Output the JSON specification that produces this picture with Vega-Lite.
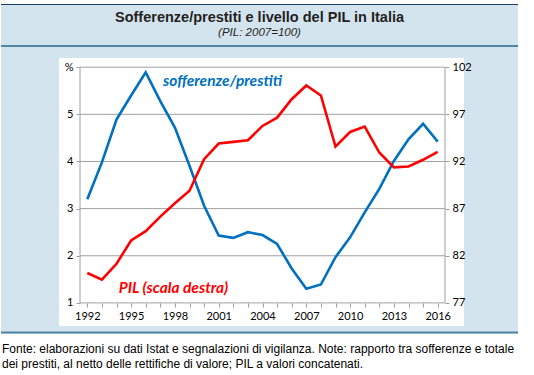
{
  "$schema": "https://vega.github.io/schema/vega-lite/v6.json",
  "padding": {"top": 3, "left": 0, "right": 0, "bottom": 0},
  "background": "white",
  "title": {
    "text": ["Fonte: elaborazioni su dati Istat e segnalazioni di vigilanza. Note: rapporto tra sofferenze e totale", "dei prestiti, al netto delle rettifiche di valore; PIL a valori concatenati."],
    "orient": "bottom", "anchor": "start", "frame": "bounds",
    "font": "Liberation Sans", "fontSize": 12, "fontWeight": "normal", "color": "#000000",
    "offset": 10, "lineHeight": 15, "dx": 2
  },
  "datasets": {
    "d": [
      {"year": 1992, "soff": 3.20, "pil": 80.17},
      {"year": 1993, "soff": 3.98, "pil": 79.46},
      {"year": 1994, "soff": 4.89, "pil": 81.15},
      {"year": 1995, "soff": 5.40, "pil": 83.62},
      {"year": 1996, "soff": 5.89, "pil": 84.61},
      {"year": 1997, "soff": 5.28, "pil": 86.15},
      {"year": 1998, "soff": 4.72, "pil": 87.56},
      {"year": 1999, "soff": 3.91, "pil": 88.90},
      {"year": 2000, "soff": 3.06, "pil": 92.25},
      {"year": 2001, "soff": 2.43, "pil": 93.90},
      {"year": 2002, "soff": 2.38, "pil": 94.08},
      {"year": 2003, "soff": 2.50, "pil": 94.25},
      {"year": 2004, "soff": 2.44, "pil": 95.77},
      {"year": 2005, "soff": 2.25, "pil": 96.65},
      {"year": 2006, "soff": 1.73, "pil": 98.60},
      {"year": 2007, "soff": 1.30, "pil": 100.06},
      {"year": 2008, "soff": 1.39, "pil": 99.00},
      {"year": 2009, "soff": 1.97, "pil": 93.58},
      {"year": 2010, "soff": 2.39, "pil": 95.13},
      {"year": 2011, "soff": 2.92, "pil": 95.70},
      {"year": 2012, "soff": 3.42, "pil": 92.95},
      {"year": 2013, "soff": 4.01, "pil": 91.37},
      {"year": 2014, "soff": 4.47, "pil": 91.47},
      {"year": 2015, "soff": 4.80, "pil": 92.18},
      {"year": 2016, "soff": 4.42, "pil": 93.02}
    ],
    "grid": [{"v": 2}, {"v": 3}, {"v": 4}, {"v": 5}, {"v": 6}],
    "one": [{}]
  },
  "vconcat": [
    {
      "width": 517,
      "height": 330,
      "view": {"fill": "#d4e4ee", "stroke": null},
      "title": {
        "text": "Sofferenze/prestiti e livello del PIL in Italia",
        "subtitle": "(PIL: 2007=100)",
        "anchor": "middle", "frame": "group", "offset": -36,
        "font": "Liberation Sans", "fontSize": 14.5, "fontWeight": "bold", "color": "#231f20",
        "subtitleFont": "Liberation Sans", "subtitleFontSize": 11.5, "subtitleFontStyle": "italic",
        "subtitleColor": "#231f20", "subtitlePadding": 2
      },
      "data": {"name": "d"},
      "layer": [
        {
          "data": {"name": "one"},
          "mark": {"type": "rect", "color": "white"},
          "encoding": {
            "x": {"datum": 1990.062, "type": "quantitative", "scale": {"domain": [1986.089, 2021.5], "nice": false, "zero": false}, "axis": null},
            "x2": {"datum": 2017.80},
            "y": {"datum": 0.51, "type": "quantitative", "scale": {"domain": [0.3404, 7.3404], "nice": false, "zero": false}, "axis": null},
            "y2": {"datum": 6.195}
          }
        },
        {
          "data": {"name": "one"},
          "mark": {"type": "rule", "color": "#4f86a3", "strokeWidth": 2},
          "encoding": {"y": {"datum": 6.449, "type": "quantitative", "scale": {"domain": [0.3404, 7.3404], "nice": false, "zero": false}, "axis": null}}
        },
        {
          "data": {"name": "one"},
          "mark": {"type": "rule", "color": "#4f86a3", "strokeWidth": 2},
          "encoding": {"y": {"datum": 0.37, "type": "quantitative", "scale": {"domain": [0.3404, 7.3404], "nice": false, "zero": false}, "axis": null}}
        },
        {
          "data": {"name": "one"},
          "mark": {"type": "rule", "color": "#1f3f66", "strokeWidth": 1.2},
          "encoding": {"y": {"datum": 7.33, "type": "quantitative", "scale": {"domain": [0.3404, 7.3404], "nice": false, "zero": false}, "axis": null}}
        },
        {
          "data": {"name": "grid"},
          "mark": {"type": "rule", "color": "#a0a0a0", "strokeWidth": 1},
          "encoding": {
            "x": {"datum": 1991.5, "type": "quantitative", "scale": {"domain": [1986.089, 2021.5], "nice": false, "zero": false}, "axis": null},
            "x2": {"datum": 2016.5},
            "y": {"field": "v", "type": "quantitative", "scale": {"domain": [0.3404, 7.3404], "nice": false, "zero": false}, "axis": null}
          }
        },
        {
          "data": {"name": "one"},
          "mark": {"type": "rule", "color": "#a0a0a0", "strokeWidth": 1},
          "encoding": {
            "x": {"datum": 1991.5, "type": "quantitative", "scale": {"domain": [1986.089, 2021.5], "nice": false, "zero": false}, "axis": null},
            "x2": {"datum": 2016.5},
            "y": {"datum": 1, "type": "quantitative", "scale": {"domain": [0.3404, 7.3404], "nice": false, "zero": false}, "axis": null}
          }
        },
        {
          "data": {"name": "one"},
          "mark": {"type": "rule", "color": "#a0a0a0", "strokeWidth": 1},
          "encoding": {
            "x": {"datum": 1991.5, "type": "quantitative", "scale": {"domain": [1986.089, 2021.5], "nice": false, "zero": false}, "axis": null},
            "y": {"datum": 1, "type": "quantitative", "scale": {"domain": [0.3404, 7.3404], "nice": false, "zero": false}, "axis": null},
            "y2": {"datum": 6}
          }
        },
        {
          "data": {"name": "one"},
          "mark": {"type": "rule", "color": "#a0a0a0", "strokeWidth": 1},
          "encoding": {
            "x": {"datum": 2016.5, "type": "quantitative", "scale": {"domain": [1986.089, 2021.5], "nice": false, "zero": false}, "axis": null},
            "y": {"datum": 1, "type": "quantitative", "scale": {"domain": [0.3404, 7.3404], "nice": false, "zero": false}, "axis": null},
            "y2": {"datum": 6}
          }
        },
        {
          "mark": {"type": "line", "color": "#0070c0", "strokeWidth": 2.6},
          "encoding": {
            "x": {
              "field": "year", "type": "quantitative",
              "scale": {"domain": [1986.089, 2021.5], "nice": false, "zero": false},
              "axis": {
                "orient": "bottom", "offset": -31, "title": null, "domain": false, "grid": false, "zindex": 1,
                "values": [1992, 1993, 1994, 1995, 1996, 1997, 1998, 1999, 2000, 2001, 2002, 2003, 2004, 2005, 2006, 2007, 2008, 2009, 2010, 2011, 2012, 2013, 2014, 2015, 2016],
                "format": "d",
                "labelExpr": "(datum.value - 1992) % 3 == 0 ? datum.label : ''",
                "tickSize": 4, "tickColor": "#a0a0a0", "labelPadding": 3,
                "labelFont": "Lato", "labelFontSize": 11, "labelColor": "#000000", "labelFlush": false, "labelOverlap": false
              }
            },
            "y": {
              "field": "soff", "type": "quantitative",
              "scale": {"domain": [0.3404, 7.3404], "nice": false, "zero": false},
              "axis": {
                "orient": "left", "offset": -79, "title": null, "domain": false, "grid": false, "zindex": 1,
                "values": [1, 2, 3, 4, 5, 6],
                "labelExpr": "datum.value == 6 ? '%' : datum.label",
                "tickSize": 4, "tickColor": "#a0a0a0", "labelPadding": 3,
                "labelFont": "Lato", "labelFontSize": 11, "labelColor": "#000000", "labelFlush": false, "labelOverlap": false
              }
            }
          }
        },
        {
          "mark": {"type": "line", "color": "#ff0000", "strokeWidth": 2.6},
          "encoding": {
            "x": {"field": "year", "type": "quantitative", "scale": {"domain": [1986.089, 2021.5], "nice": false, "zero": false}, "axis": null},
            "y": {
              "field": "pil", "type": "quantitative",
              "scale": {"domain": [73.702, 108.702], "nice": false, "zero": false},
              "axis": {
                "orient": "right", "offset": -73, "title": null, "domain": false, "grid": false, "zindex": 1,
                "values": [77, 82, 87, 92, 97, 102],
                "tickSize": 4, "tickColor": "#a0a0a0", "labelPadding": 3,
                "labelFont": "Lato", "labelFontSize": 11, "labelColor": "#000000", "labelFlush": false, "labelOverlap": false
              }
            }
          }
        },
        {
          "data": {"name": "one"},
          "mark": {"type": "text", "text": "sofferenze/prestiti", "color": "#0070c0", "font": "Lato", "fontSize": 15.5, "fontWeight": "bold", "fontStyle": "italic", "align": "center", "baseline": "middle"},
          "encoding": {
            "x": {"datum": 2001.26, "type": "quantitative", "scale": {"domain": [1986.089, 2021.5], "nice": false, "zero": false}, "axis": null},
            "y": {"datum": 5.707, "type": "quantitative", "scale": {"domain": [0.3404, 7.3404], "nice": false, "zero": false}, "axis": null}
          }
        },
        {
          "data": {"name": "one"},
          "mark": {"type": "text", "text": "PIL (scala destra)", "color": "#ff0000", "font": "Lato", "fontSize": 15.5, "fontWeight": "bold", "fontStyle": "italic", "align": "center", "baseline": "middle"},
          "encoding": {
            "x": {"datum": 1997.9, "type": "quantitative", "scale": {"domain": [1986.089, 2021.5], "nice": false, "zero": false}, "axis": null},
            "y": {"datum": 1.316, "type": "quantitative", "scale": {"domain": [0.3404, 7.3404], "nice": false, "zero": false}, "axis": null}
          }
        }
      ],
      "resolve": {"scale": {"x": "independent", "y": "independent"}}
    }
  ]
}
